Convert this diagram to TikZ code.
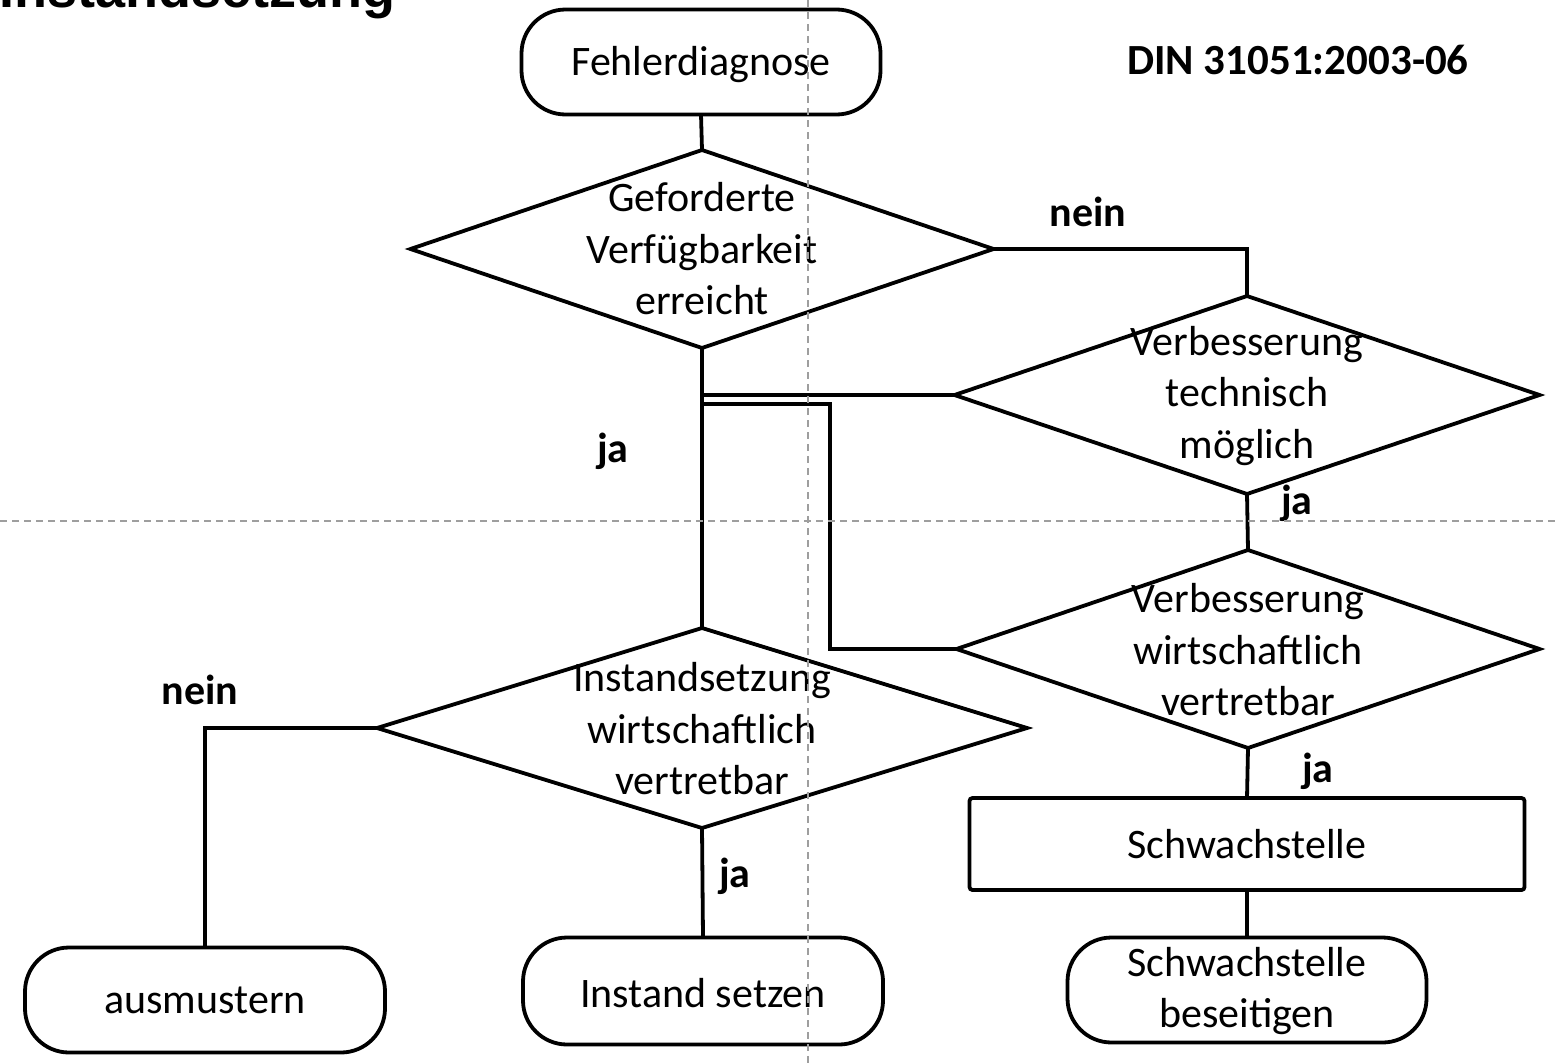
\documentclass[tikz,border=0pt]{standalone}
\usepackage{fontspec}
\setmainfont{Carlito}
\newfontfamily\titlefont{Liberation Sans}
\usetikzlibrary{shapes.geometric}

\tikzset{
  base/.style={draw=black, line width=3.8pt, inner sep=0pt, outer sep=0pt},
  terminal/.style={base, rectangle, rounded corners=44pt, minimum width=359pt, minimum height=105pt},
  process/.style={base, rectangle, rounded corners=3pt},
  decision/.style={base, diamond, minimum width=583pt, minimum height=198pt},
  txt/.style={font=\fontsize{42}{51.5}\selectfont, align=center, inner sep=0pt},
  lbl/.style={font=\fontsize{42}{50}\selectfont\bfseries, inner sep=0pt},
  link/.style={line width=3.8pt, black},
  guide/.style={line width=2pt, draw=black!38, dash pattern=on 7pt off 5pt}
}

\begin{document}
\begin{tikzpicture}[x=1pt, y=-1pt]
\useasboundingbox (0,0) rectangle (1560,1063);
\fill[white] (0,0) rectangle (1560,1063);

% heading, cut by the top edge
\node[anchor=base west, inner sep=0pt, font=\fontsize{54}{60}\selectfont\titlefont\bfseries] (title) at (-1,7) {Instandsetzung};
\node[lbl, font=\fontsize{43}{50}\selectfont\bfseries] (din) at (1298,60) {DIN 31051:2003-06};

% shapes
\node[terminal] (fd) at (701,62) {};
\node[txt] (fdt) at (701,65) {Fehlerdiagnose};

\node[decision] (d1) at (702,249) {};
\node[txt] (d1t) at (702,249) {Geforderte\\Verfügbarkeit\\erreicht};

\node[decision, minimum width=585pt] (d2) at (1247,395) {};
\node[txt] (d2t) at (1247,396) {Verbesserung\\technisch\\möglich};

\node[decision] (d3) at (1248,649) {};
\node[txt] (d3t) at (1248,650) {Verbesserung\\wirtschaftlich\\vertretbar};

\node[decision, minimum width=650pt, minimum height=200pt] (d4) at (702,728) {};
\node[txt] (d4t) at (702,729) {Instandsetzung\\wirtschaftlich\\vertretbar};

\node[process, minimum width=555pt, minimum height=92pt] (sw) at (1247,844) {};
\node[txt] (swt) at (1247,844) {Schwachstelle};

\node[terminal] (swb) at (1247,990) {};
\node[txt] (swbt) at (1247,991) {Schwachstelle\\beseitigen};

\node[terminal, minimum width=360pt, minimum height=107pt] (is) at (703,991) {};
\node[txt] (ist) at (703,993) {Instand setzen};

\node[terminal, minimum width=360pt] (am) at (205,1000) {};
\node[txt] (amt) at (205,1000) {ausmustern};

% connectors
\draw[link] (fd.south) -- (d1.north);
\draw[link] (d1.east) -| (d2.north);
\draw[link] (d2.south) -- (d3.north);
\draw[link] (d3.south) -- (sw.north);
\draw[link] (sw.south) -- (swb.north);
\draw[link] (d1.south) -- (d4.north);
\draw[link] (d2.west) -- (d2.west -| d1.south);
\coordinate (bend) at (830,404);
\draw[link] (d3.west) -| (bend) -- (bend -| d1.south);
\draw[link] (d4.west) -| (am.north);
\draw[link] (d4.south) -- (is.north);

% branch labels
\node[lbl] (n1) at (1088,212) {nein};
\node[lbl] (j1) at (613,451) {ja};
\node[lbl] (j2) at (1297,503) {ja};
\node[lbl] (j3) at (1318,771) {ja};
\node[lbl] (n2) at (200,690) {nein};
\node[lbl] (j4) at (735,876) {ja};

% guide lines
\draw[guide] (808,0) -- (808,1063);
\draw[guide] (0,521) -- (1560,521);
\end{tikzpicture}
\end{document}
